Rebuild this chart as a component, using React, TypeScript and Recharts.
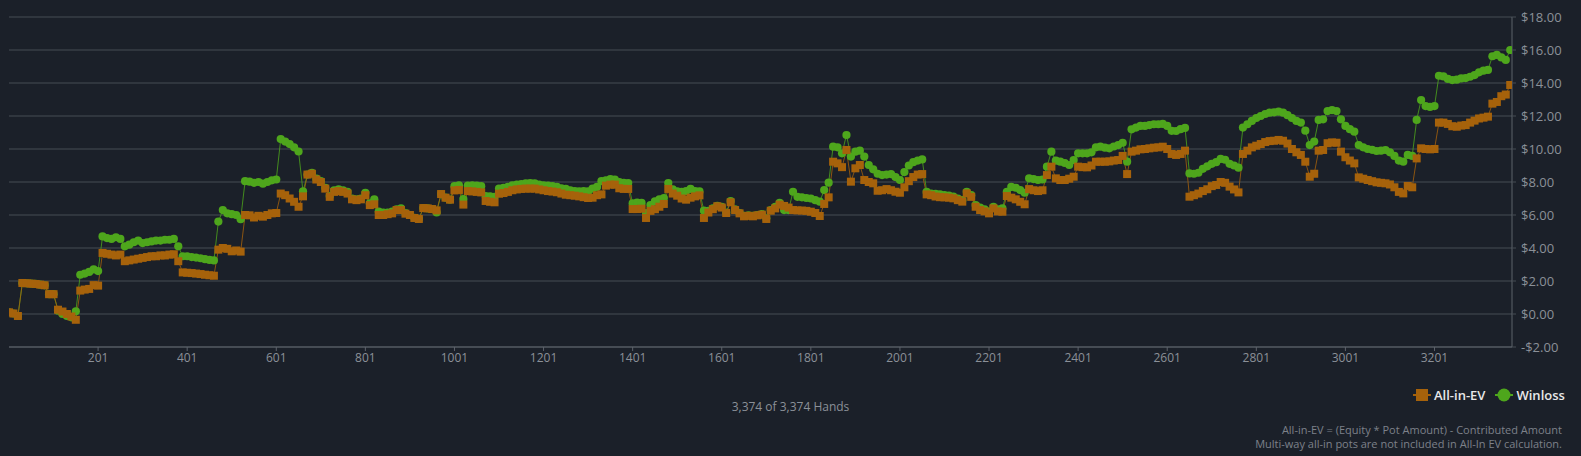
import React from 'react';
import { ComposedChart, Line, XAxis, YAxis, CartesianGrid } from 'recharts';

// one sample every 10 hands, starting at hand 1
const FIRST_HAND = 1;
const HAND_STEP = 10;
const TOTAL_HANDS = 3374;

const ALL_IN_EV = [
  0.10, 0.03, -0.12, 1.88, 1.86, 1.84, 1.82, 1.78, 1.74, 1.20,
  1.20, 0.26, 0.15, 0.00, -0.15, -0.35, 1.42, 1.48, 1.52, 1.75,
  1.72, 3.70, 3.65, 3.60, 3.55, 3.60, 3.20, 3.25, 3.30, 3.35,
  3.40, 3.45, 3.50, 3.50, 3.55, 3.55, 3.60, 3.62, 3.20, 2.52,
  2.50, 2.48, 2.45, 2.42, 2.38, 2.35, 2.32, 3.90, 4.00, 3.95,
  3.80, 3.85, 3.78, 6.00, 5.98, 5.85, 5.95, 5.90, 6.00, 6.10,
  6.12, 7.30, 7.20, 7.00, 6.80, 6.50, 7.13, 8.45, 8.50, 8.15,
  8.00, 7.60, 7.10, 7.40, 7.45, 7.40, 7.30, 6.95, 6.90, 6.95,
  7.20, 6.60, 6.65, 6.00, 6.00, 6.05, 6.10, 6.30, 6.30, 6.08,
  6.00, 5.82, 5.76, 6.42, 6.40, 6.36, 6.28, 7.27, 7.05, 6.93,
  7.49, 7.52, 6.63, 7.45, 7.43, 7.40, 7.37, 6.85, 6.80, 6.77,
  7.29, 7.33, 7.40, 7.50, 7.55, 7.58, 7.60, 7.60, 7.60, 7.55,
  7.50, 7.45, 7.42, 7.38, 7.30, 7.23, 7.20, 7.17, 7.13, 7.08,
  7.03, 7.05, 7.20, 7.25, 7.78, 7.84, 7.84, 7.62, 7.58, 7.58,
  6.36, 6.36, 6.38, 5.82, 6.25, 6.35, 6.50, 6.67, 7.58, 7.30,
  7.17, 7.00, 6.93, 7.05, 7.13, 7.19, 5.82, 6.15, 6.35, 6.53,
  6.45, 6.12, 6.77, 6.30, 6.10, 5.92, 5.95, 5.92, 5.98, 6.02,
  5.76, 6.26, 6.40, 6.63, 6.55, 6.45, 6.30, 6.28, 6.27, 6.25,
  6.20, 6.12, 5.94, 6.67, 7.07, 9.23, 9.13, 8.90, 9.94, 8.02,
  8.83, 9.03, 8.12, 8.00, 7.92, 7.47, 7.50, 7.57, 7.50, 7.41,
  7.35, 7.68, 8.05, 8.30, 8.45, 8.48, 7.25, 7.20, 7.12, 7.08,
  7.07, 7.05, 7.01, 6.90, 6.81, 7.31, 7.10, 6.50, 6.30, 6.22,
  6.10, 6.40, 6.22, 6.20, 7.15, 7.05, 6.95, 6.80, 6.65, 7.57,
  7.50, 7.45, 7.50, 8.42, 8.93, 8.22, 8.12, 8.12, 8.20, 8.32,
  8.93, 8.90, 8.89, 9.00, 9.23, 9.23, 9.23, 9.25, 9.30, 9.33,
  9.58, 8.48, 9.84, 9.90, 9.98, 10.00, 10.04, 10.08, 10.10, 10.14,
  10.00, 9.70, 9.64, 9.70, 9.90, 7.11, 7.20, 7.30, 7.45, 7.56,
  7.75, 7.82, 8.00, 7.95, 7.72, 7.55, 7.37, 9.70, 9.90, 10.10,
  10.20, 10.30, 10.42, 10.48, 10.50, 10.55, 10.50, 10.33, 10.00, 9.80,
  9.64, 9.23, 8.32, 8.50, 9.90, 9.94, 10.35, 10.40, 10.38, 9.84,
  9.50, 9.30, 9.13, 8.28, 8.20, 8.12, 8.05, 7.98, 7.95, 7.92,
  7.85, 7.68, 7.40, 7.31, 7.76, 7.68, 9.43, 10.04, 10.00, 9.98,
  10.00, 11.60, 11.60, 11.52, 11.38, 11.35, 11.42, 11.45, 11.60, 11.72,
  11.85, 11.90, 11.96, 12.75, 12.85, 13.20, 13.30, 13.88,
];

const WINLOSS = [
  0.10, 0.03, -0.12, 1.88, 1.86, 1.84, 1.82, 1.78, 1.74, 1.20,
  1.20, 0.20, 0.00, -0.12, -0.20, 0.16, 2.38, 2.45, 2.55, 2.70,
  2.60, 4.70, 4.60, 4.55, 4.65, 4.55, 4.10, 4.20, 4.35, 4.45,
  4.30, 4.35, 4.40, 4.45, 4.45, 4.50, 4.50, 4.55, 4.10, 3.50,
  3.50, 3.45, 3.42, 3.38, 3.32, 3.28, 3.25, 5.60, 6.30, 6.10,
  6.05, 6.00, 5.75, 8.05, 8.02, 7.95, 8.00, 7.90, 8.00, 8.10,
  8.15, 10.60, 10.45, 10.30, 10.10, 9.85, 7.43, 8.45, 8.55, 8.20,
  8.05, 7.65, 7.15, 7.50, 7.55, 7.50, 7.40, 7.00, 6.95, 7.00,
  7.35, 6.70, 6.95, 6.20, 6.15, 6.15, 6.20, 6.35, 6.40, 6.12,
  6.00, 5.82, 5.76, 6.42, 6.40, 6.36, 6.15, 7.27, 7.05, 6.93,
  7.75, 7.80, 6.97, 7.78, 7.80, 7.78, 7.75, 7.15, 7.13, 7.10,
  7.60, 7.65, 7.70, 7.80, 7.85, 7.88, 7.92, 7.94, 7.92, 7.85,
  7.80, 7.78, 7.75, 7.70, 7.62, 7.58, 7.50, 7.45, 7.43, 7.45,
  7.43, 7.60, 7.70, 8.05, 8.10, 8.18, 8.15, 8.00, 7.95, 7.94,
  6.70, 6.75, 6.73, 6.12, 6.60, 6.83, 6.95, 7.03, 7.94, 7.55,
  7.43, 7.40, 7.45, 7.58, 7.45, 7.43, 6.26, 6.25, 6.40, 6.55,
  6.50, 6.15, 6.85, 6.35, 6.12, 5.95, 5.98, 5.95, 6.00, 6.05,
  5.80, 6.30, 6.50, 6.73, 6.30, 6.30, 7.41, 7.10, 7.07, 7.03,
  7.00, 6.90, 6.81, 7.51, 7.96, 10.14, 10.10, 9.74, 10.85, 9.54,
  9.84, 9.90, 9.54, 9.03, 8.77, 8.50, 8.42, 8.45, 8.48, 8.30,
  8.12, 8.60, 9.00, 9.20, 9.30, 9.37, 7.40, 7.30, 7.28, 7.25,
  7.20, 7.18, 7.12, 7.00, 6.90, 7.41, 7.20, 6.60, 6.45, 6.35,
  6.20, 6.50, 6.35, 6.40, 7.41, 7.70, 7.65, 7.51, 7.35, 8.22,
  8.18, 8.12, 8.15, 8.93, 9.84, 9.29, 9.23, 9.15, 9.03, 9.33,
  9.74, 9.74, 9.74, 9.80, 10.10, 10.14, 10.08, 10.04, 10.15, 10.24,
  10.38, 9.23, 11.19, 11.30, 11.40, 11.40, 11.45, 11.50, 11.50, 11.52,
  11.40, 11.10, 11.09, 11.20, 11.28, 8.52, 8.50, 8.56, 8.80, 8.95,
  9.10, 9.20, 9.40, 9.35, 9.10, 9.00, 8.87, 11.30, 11.50, 11.70,
  11.88, 12.00, 12.12, 12.20, 12.22, 12.26, 12.20, 12.05, 11.88, 11.70,
  11.60, 11.11, 10.24, 10.45, 11.76, 11.80, 12.30, 12.36, 12.30, 11.80,
  11.40, 11.20, 11.05, 10.24, 10.10, 10.00, 9.95, 9.88, 9.90, 9.94,
  9.80, 9.58, 9.30, 9.23, 9.64, 9.58, 11.76, 12.97, 12.60, 12.55,
  12.60, 14.44, 14.40, 14.25, 14.18, 14.20, 14.28, 14.30, 14.38, 14.48,
  14.65, 14.75, 14.79, 15.62, 15.70, 15.55, 15.40, 16.00,
];

const X_TICKS = [201, 401, 601, 801, 1001, 1201, 1401, 1601, 1801, 2001, 2201, 2401, 2601, 2801, 3001, 3201];
const Y_TICKS = [-2, 0, 2, 4, 6, 8, 10, 12, 14, 16, 18];

const BG = '#1b2029';
const GRID = '#474c55';
const AXIS = '#5d626b';
const LABEL = '#8b9098';
const ORANGE = '#a6620b';
const GREEN = '#4ea61c';
const FONT = '"Open Sans", "DejaVu Sans", sans-serif';

const data = ALL_IN_EV.map((ev, i) => ({
  hand: FIRST_HAND + i * HAND_STEP,
  ev,
  wl: WINLOSS[i],
}));

const fmtMoney = (v: number) => (v < 0 ? `-$${Math.abs(v).toFixed(2)}` : `$${v.toFixed(2)}`);

const SquareDot = (p: any) =>
  p.cx == null ? null : (
    <rect key={`ev-${p.index}`} x={p.cx - 4} y={p.cy - 4} width={8} height={8} fill={ORANGE} />
  );

const CircleDot = (p: any) =>
  p.cx == null ? null : <circle key={`wl-${p.index}`} cx={p.cx} cy={p.cy} r={4.1} fill={GREEN} />;

export default function App() {
  return (
    <div
      style={{
        position: 'absolute', left: 0, top: 0, width: 1581, height: 456,
        background: BG, fontFamily: FONT, overflow: 'hidden',
      }}
    >
      <ComposedChart width={1581} height={380} data={data}
        margin={{ top: 17, right: 9, bottom: 3, left: 9 }}>
        <CartesianGrid vertical={false} stroke={GRID} strokeWidth={1} />
        <XAxis dataKey="hand" type="number" domain={[FIRST_HAND, TOTAL_HANDS + 1]} ticks={X_TICKS}
          allowDataOverflow height={30} stroke={AXIS} tickSize={4} tickMargin={2}
          tick={{ fill: LABEL, fontSize: 12, fontFamily: FONT }} />
        <YAxis orientation="right" type="number" domain={[-2, 18]} ticks={Y_TICKS} width={60}
          stroke={AXIS} tickLine={{ stroke: GRID }} tickSize={4} tickMargin={5}
          tickFormatter={fmtMoney}
          tick={{ fill: LABEL, fontSize: 13, fontFamily: FONT, textAnchor: 'start' }} />
        {/* orange sits on top of green where they overlap */}
        <Line dataKey="wl" type="linear" stroke={GREEN} strokeOpacity={0.8} strokeWidth={1}
          dot={CircleDot} activeDot={false} isAnimationActive={false} />
        <Line dataKey="ev" type="linear" stroke={ORANGE} strokeOpacity={0.8} strokeWidth={1}
          dot={SquareDot} activeDot={false} isAnimationActive={false} />
      </ComposedChart>

      {/* legend */}
      <div style={{ position: 'absolute', left: 1410, top: 386, height: 18, display: 'flex', alignItems: 'center' }}>
        <svg width={22} height={18}>
          <line x1={3} y1={9} x2={21} y2={9} stroke={ORANGE} strokeWidth={2} />
          <rect x={6} y={3} width={12} height={12} fill={ORANGE} />
        </svg>
        <span style={{ color: '#e8e8e8', fontSize: 13, fontWeight: 600, marginLeft: 2 }}>All-in-EV</span>
        <svg width={20} height={18} style={{ marginLeft: 9 }}>
          <line x1={1} y1={9} x2={19} y2={9} stroke={GREEN} strokeWidth={2} />
          <circle cx={10} cy={9} r={6.5} fill={GREEN} />
        </svg>
        <span style={{ color: '#e8e8e8', fontSize: 13, fontWeight: 600, marginLeft: 2 }}>Winloss</span>
      </div>

      <div style={{ position: 'absolute', left: 0, width: 1581, top: 399, textAlign: 'center', color: LABEL, fontSize: 12, lineHeight: '16px' }}>
        3,374 of 3,374 Hands
      </div>

      <div style={{ position: 'absolute', right: 19, top: 423, textAlign: 'right', color: '#7d8189', fontSize: 11, lineHeight: '14px' }}>
        <div>All-in-EV = (Equity * Pot Amount) - Contributed Amount</div>
        <div>Multi-way all-in pots are not included in All-In EV calculation.</div>
      </div>
    </div>
  );
}
